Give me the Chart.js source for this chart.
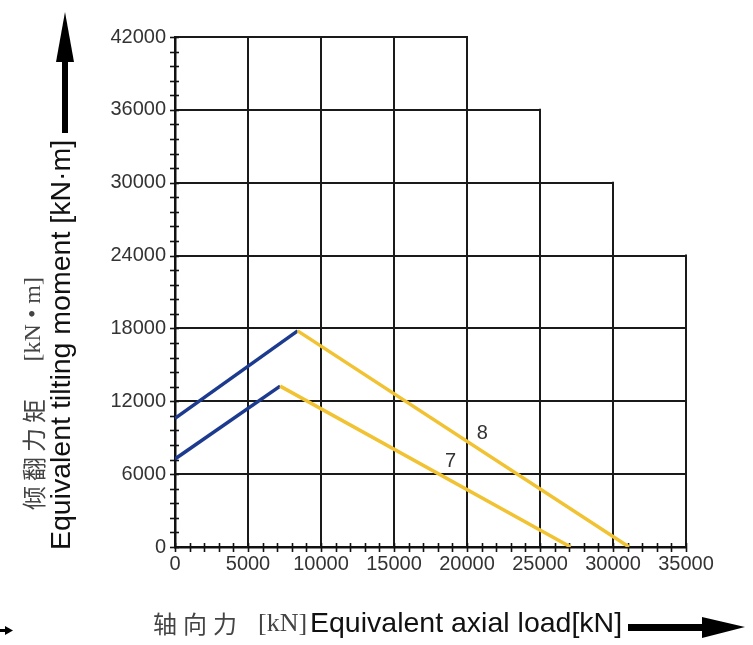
<!DOCTYPE html>
<html>
<head>
<meta charset="utf-8">
<script src="https://cdn.jsdelivr.net/npm/chart.js@4.4.1/dist/chart.umd.min.js"></script>
<style>
  html, body { margin: 0; background: #fff; }
  canvas { display: block; }
</style>
</head>
<body>
<canvas id="chart" width="753" height="645"></canvas>
<script>
// axis ticks
const xTickValues = [0, 5000, 10000, 15000, 20000, 25000, 30000, 35000];
const yTickValues = [0, 6000, 12000, 18000, 24000, 30000, 36000, 42000];
// the grid is stepped: how far each line runs
const verticalGridTop = [42000, 42000, 42000, 42000, 42000, 36000, 30000, 24000];
const horizontalGridEnd = [35000, 35000, 35000, 35000, 35000, 30000, 25000, 20000];

// load curves (axial load kN, tilting moment kN·m)
const curve7X = [0, 7200, 27100];
const curve7Y = [7250, 13250, 0];
const curve8X = [0, 8400, 31100];
const curve8Y = [10600, 17800, 0];
const curveNames = ['7', '8'];

const BLUE = '#1c3a8e';
const YELLOW = '#f1c232';
const SANS = "'Liberation Sans', Arial, sans-serif";
const SERIF = "'Liberation Serif', 'Noto Sans CJK SC', serif";
const CJK = "'Noto Sans CJK SC', sans-serif";

function toPoints(xs, ys) {
  return xs.map((x, i) => ({ x: x, y: ys[i] }));
}

function curveDataset(name, xs, ys) {
  return {
    label: name,
    data: toPoints(xs, ys),
    borderWidth: 3.5,
    pointRadius: 0,
    borderColor: YELLOW,
    segment: {
      borderColor: ctx => ctx.p0DataIndex === 0 ? BLUE : YELLOW
    }
  };
}

// where the curve numbers sit (data coords)
const labelAnchors = { '7': [18870, 7080], '8': [21050, 9380] };

const gridPlugin = {
  id: 'steppedGrid',
  beforeDatasetsDraw(chart) {
    const { ctx, scales: { x, y } } = chart;
    ctx.save();
    ctx.strokeStyle = '#1a1a1a';
    ctx.lineWidth = 2;
    xTickValues.forEach((v, i) => {
      if (v === 0) return;
      const px = Math.round(x.getPixelForValue(v));
      ctx.beginPath();
      ctx.moveTo(px, y.getPixelForValue(0));
      ctx.lineTo(px, y.getPixelForValue(verticalGridTop[i]) - 1);
      ctx.stroke();
    });
    yTickValues.forEach((v, i) => {
      if (v === 0) return;
      const py = Math.round(y.getPixelForValue(v));
      ctx.beginPath();
      ctx.moveTo(x.getPixelForValue(0), py);
      ctx.lineTo(x.getPixelForValue(horizontalGridEnd[i]) + 1, py);
      ctx.stroke();
    });

    // minor ticks on both axes
    ctx.strokeStyle = '#111';
    ctx.lineWidth = 1.6;
    const x0 = x.getPixelForValue(0);
    const y0 = y.getPixelForValue(0);
    for (let v = 0; v <= 42000; v += 1200) {
      const py = Math.round(y.getPixelForValue(v)) + 0.5;
      ctx.beginPath();
      ctx.moveTo(x0 - 5, py);
      ctx.lineTo(x0 + 4, py);
      ctx.stroke();
    }
    for (let v = 0; v <= 35000; v += 1000) {
      const px = Math.round(x.getPixelForValue(v)) + 0.5;
      ctx.beginPath();
      ctx.moveTo(px, y0 - 4);
      ctx.lineTo(px, y0 + 5);
      ctx.stroke();
    }
    ctx.restore();
  },
  afterDatasetsDraw(chart) {
    const { ctx, scales: { x, y } } = chart;
    ctx.save();
    ctx.fillStyle = '#333';
    ctx.font = '20px ' + SANS;
    ctx.textAlign = 'center';
    ctx.textBaseline = 'middle';
    curveNames.forEach(n => {
      const a = labelAnchors[n];
      ctx.fillText(n, x.getPixelForValue(a[0]), y.getPixelForValue(a[1]));
    });
    ctx.restore();
  },
  afterDraw(chart) {
    const ctx = chart.ctx;
    ctx.save();
    ctx.textBaseline = 'middle';

    // y title (rotated, reads bottom to top)
    ctx.save();
    ctx.translate(34, 510);
    ctx.rotate(-Math.PI / 2);
    ctx.textAlign = 'left';
    ctx.fillStyle = '#444';
    ctx.font = '24px ' + CJK;
    ctx.letterSpacing = '5px';
    ctx.fillText('倾翻力矩', 0, 0);
    ctx.letterSpacing = '0px';
    ctx.font = '24px ' + SERIF;
    ctx.textAlign = 'right';
    ctx.fillText('[kN • m]', 233, 0);
    ctx.restore();

    ctx.save();
    ctx.translate(62, 345);
    ctx.rotate(-Math.PI / 2);
    ctx.textAlign = 'center';
    ctx.fillStyle = '#111';
    ctx.font = '28.5px ' + SANS;
    ctx.fillText('Equivalent tilting moment [kN·m]', 0, 0);
    ctx.restore();

    // x title
    ctx.textAlign = 'left';
    ctx.fillStyle = '#444';
    ctx.font = '24px ' + CJK;
    ctx.letterSpacing = '6px';
    ctx.fillText('轴向力', 153, 624);
    ctx.letterSpacing = '0px';
    ctx.font = '26px ' + SERIF;
    ctx.fillText('[kN]', 258, 624);
    ctx.fillStyle = '#111';
    ctx.font = '28.5px ' + SANS;
    ctx.fillText('Equivalent axial load[kN]', 310, 624);

    // arrows
    ctx.fillStyle = '#000';
    ctx.fillRect(62, 56, 6, 77);
    ctx.beginPath();
    ctx.moveTo(56, 62);
    ctx.lineTo(74, 62);
    ctx.lineTo(65, 12);
    ctx.closePath();
    ctx.fill();

    ctx.fillRect(628, 624, 78, 7);
    ctx.beginPath();
    ctx.moveTo(702, 617);
    ctx.lineTo(702, 638);
    ctx.lineTo(745, 627);
    ctx.closePath();
    ctx.fill();

    ctx.fillRect(0, 629, 6, 3);
    ctx.beginPath();
    ctx.moveTo(5, 626);
    ctx.lineTo(5, 635);
    ctx.lineTo(13, 630.5);
    ctx.closePath();
    ctx.fill();
    ctx.restore();
  }
};

new Chart(document.getElementById('chart'), {
  type: 'line',
  data: {
    datasets: [
      curveDataset(curveNames[0], curve7X, curve7Y),
      curveDataset(curveNames[1], curve8X, curve8Y)
    ]
  },
  options: {
    responsive: false,
    animation: false,
    layout: { padding: { left: 0, right: 67, top: 37, bottom: 0 } },
    plugins: { legend: { display: false }, tooltip: { enabled: false } },
    scales: {
      x: {
        type: 'linear',
        min: 0,
        max: 35000,
        afterBuildTicks: s => { s.ticks = xTickValues.map(v => ({ value: v })); },
        afterFit: s => { s.height = 98; },
        grid: { display: false, drawTicks: false },
        border: { display: true, color: '#111', width: 2.5 },
        ticks: {
          padding: 5,
          color: '#333',
          font: { family: SANS, size: 20 },
          maxRotation: 0,
          callback: v => String(v)
        }
      },
      y: {
        type: 'linear',
        min: 0,
        max: 42000,
        afterBuildTicks: s => { s.ticks = yTickValues.map(v => ({ value: v })); },
        afterFit: s => { s.width = 175; },
        grid: { display: false, drawTicks: false },
        border: { display: true, color: '#111', width: 2.5 },
        ticks: {
          padding: 9,
          color: '#333',
          font: { family: SANS, size: 20 },
          callback: v => String(v)
        }
      }
    }
  },
  plugins: [gridPlugin]
});
</script>
</body>
</html>
